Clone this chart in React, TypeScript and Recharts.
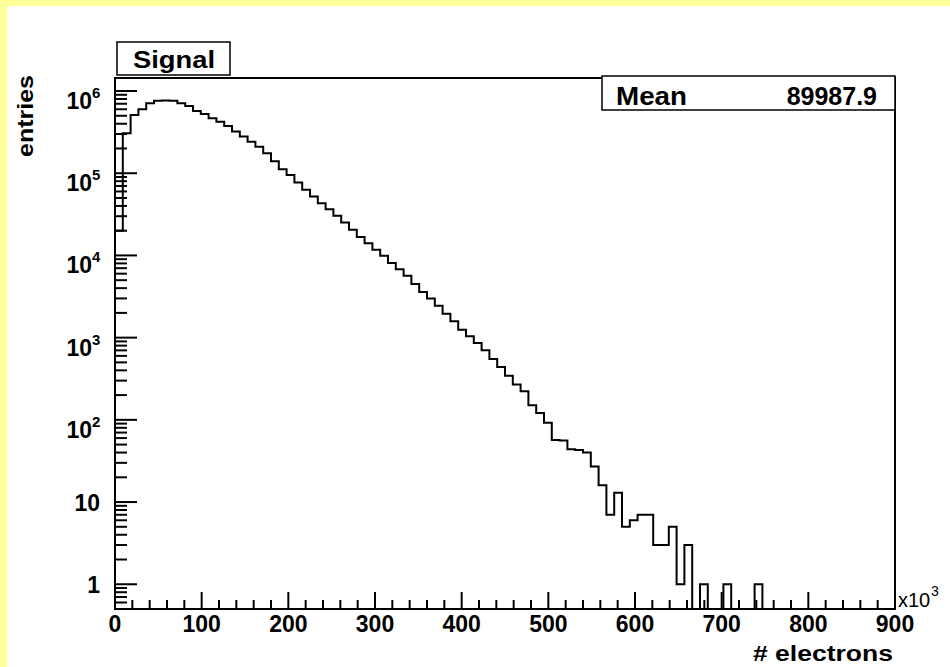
import { LineChart, Line, XAxis, YAxis, ReferenceArea } from 'recharts';

// electron count histogram, 100 bins of 9k electrons between 0 and 900k
const BIN_WIDTH = 9;
const X_MAX = 900;

const counts = [
  20000, 306000, 511000, 599000, 708000, 762000, 765000, 760000, 708000, 658000,
  571000, 525000, 465000, 424000, 376000, 321000, 279000, 242000, 210000, 175000,
  140000, 112000, 95000, 77000, 63000, 52000, 43000, 36500, 30300, 25100,
  20500, 16700, 14100, 11700, 9900, 8100, 6800, 5650, 4500, 3600,
  3000, 2450, 1950, 1580, 1250, 1040, 860, 700, 550, 440,
  345, 270, 222, 150, 121, 92, 57, 56, 44, 43,
  40, 27, 16, 7, 13, 5, 6, 7, 7, 3,
  3, 5, 1, 3, 0, 1, 0, 0, 1, 0,
  0, 0, 1, 0, 0, 0, 0, 0, 0, 0,
  0, 0, 0, 0, 0, 0, 0, 0, 0, 0,
];

const xLabels = [0, 100, 200, 300, 400, 500, 600, 700, 800, 900];
const yDecades = [1, 10, 100, 1000, 10000, 100000, 1000000];

const Y_MIN = 0.5;
const Y_MAX = 1.44e6;
const FONT = '"Liberation Sans", Arial, Helvetica, sans-serif';

// empty bins sit on the floor of the log axis
const data = counts.map((c, i) => ({ x: i * BIN_WIDTH, y: c > 0 ? c : Y_MIN }));
data.push({ x: X_MAX, y: data[data.length - 1].y });

const xTicks: number[] = [];
for (let v = 0; v <= X_MAX; v += 20) xTicks.push(v);

const yTicks: number[] = [];
[0.1, ...yDecades].forEach((d) => {
  for (let m = 1; m <= 9; m++) {
    const v = d * m;
    if (v >= Y_MIN && v <= Y_MAX && !(d === 0.1 && m === 1)) yTicks.push(v);
  }
});

const XTick = (props: any) => {
  const { x, y, payload } = props;
  const major = xLabels.includes(payload.value);
  return (
    <g>
      <line x1={x} x2={x} y1={y} y2={y - (major ? 17 : 9)} stroke="#000" strokeWidth={2} />
      {major && (
        <text x={x} y={y + 23} textAnchor="middle" fontFamily={FONT} fontWeight="bold" fontSize={23} fill="#000">
          {payload.value}
        </text>
      )}
    </g>
  );
};

const YTick = (props: any) => {
  const { x, y, payload } = props;
  const v = payload.value;
  const major = yDecades.includes(v);
  let label = null;
  if (major) {
    const exp = Math.round(Math.log10(v));
    if (exp <= 1) {
      label = (
        <text x={x - 15} y={y + 9} textAnchor="end" fontFamily={FONT} fontWeight="bold" fontSize={23} fill="#000">
          {exp === 0 ? '1' : '10'}
        </text>
      );
    } else {
      label = (
        <g fontFamily={FONT} fontWeight="bold" fill="#000">
          <text x={x - 23} y={y + 18} textAnchor="end" fontSize={23}>10</text>
          <text x={x - 23} y={y + 7} textAnchor="start" fontSize={15}>{exp}</text>
        </g>
      );
    }
  }
  return (
    <g>
      <line x1={x} x2={x + (major ? 22 : 12)} y1={y} y2={y} stroke="#000" strokeWidth={2} />
      {label}
    </g>
  );
};

export default function App() {
  return (
    <div style={{ position: 'fixed', left: 0, top: 0, width: 950, height: 667, background: '#ffff99', overflow: 'hidden' }}>
      <div style={{ position: 'absolute', left: 7, top: 6, right: 0, bottom: 0, background: '#fff' }} />
      <div style={{ position: 'absolute', left: 0, top: 0 }}>
        <LineChart width={950} height={667} data={data} margin={{ top: 78, right: 55, bottom: 0, left: 0 }}>
          <XAxis
            dataKey="x"
            type="number"
            domain={[0, X_MAX]}
            ticks={xTicks}
            interval={0}
            height={58}
            axisLine={false}
            tickLine={false}
            tickSize={0}
            tickMargin={0}
            tick={<XTick />}
          />
          <YAxis
            type="number"
            scale="log"
            domain={[Y_MIN, Y_MAX]}
            allowDataOverflow
            ticks={yTicks}
            interval={0}
            width={115}
            axisLine={false}
            tickLine={false}
            tickSize={0}
            tickMargin={0}
            tick={<YTick />}
          />
          <ReferenceArea x1={0} x2={X_MAX} y1={Y_MIN} y2={Y_MAX} fill="none" stroke="#000" strokeWidth={2} />
          <Line
            dataKey="y"
            type="stepAfter"
            stroke="#000"
            strokeWidth={2}
            dot={false}
            isAnimationActive={false}
          />
        </LineChart>
      </div>
      <svg width={950} height={667} style={{ position: 'absolute', left: 0, top: 0, pointerEvents: 'none' }}>
        <g fontFamily={FONT} fontWeight="bold" fill="#000">
          <rect x={117} y={42} width={113} height={33} fill="#fff" stroke="#000" strokeWidth={1.5} />
          <text x={133} y={68} fontSize={24} textLength={82} lengthAdjust="spacingAndGlyphs">Signal</text>

          <rect x={602} y={76} width={293} height={34} fill="#fff" stroke="#000" strokeWidth={1.5} />
          <text x={616} y={105} fontSize={25} textLength={71} lengthAdjust="spacingAndGlyphs">Mean</text>
          <text x={877} y={105} fontSize={25} textAnchor="end">89987.9</text>

          <text
            transform="translate(33,157) rotate(-90)"
            x={0}
            y={0}
            fontSize={22}
            textLength={82}
            lengthAdjust="spacingAndGlyphs"
          >
            entries
          </text>
          <text x={893} y={661} fontSize={22} textAnchor="end" textLength={140} lengthAdjust="spacingAndGlyphs">
            # electrons
          </text>
          <text x={898} y={607} fontSize={20} fontWeight="normal">x10</text>
          <text x={931} y={596} fontSize={14} fontWeight="normal">3</text>
        </g>
      </svg>
    </div>
  );
}
